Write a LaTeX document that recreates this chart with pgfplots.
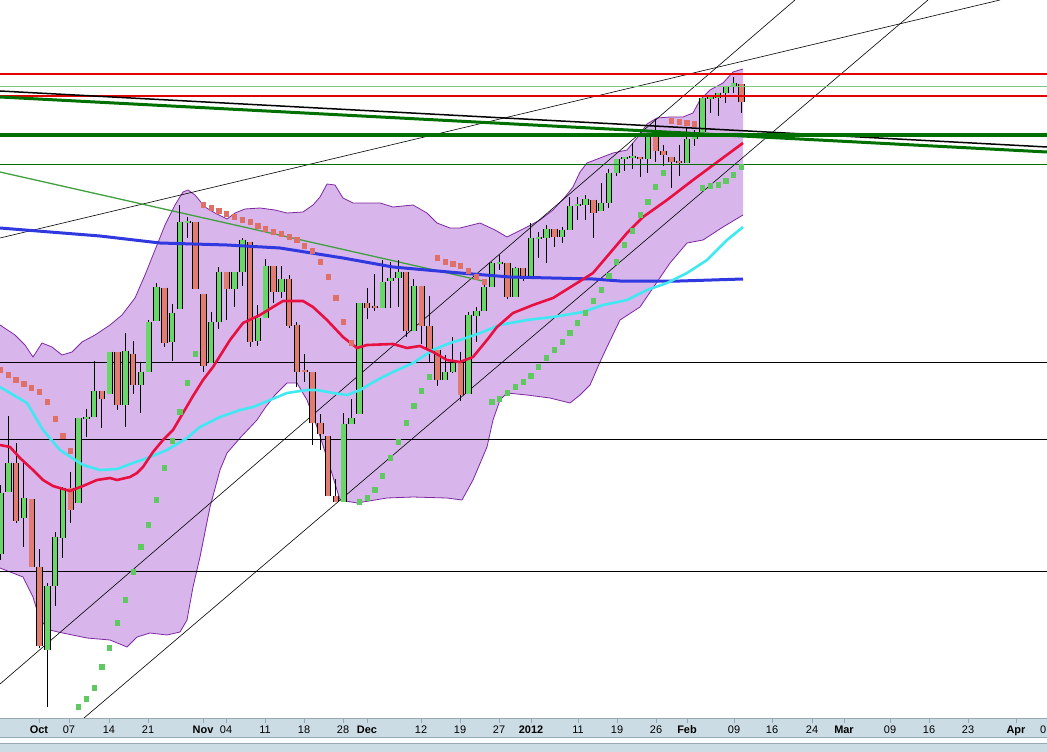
\documentclass[border=0pt]{standalone}
\usepackage{pgfplots}
\pgfplotsset{compat=1.18}
\usepackage{pgfplotstable}
\usepackage{fontspec}
\setmainfont{Liberation Sans}

\definecolor{bandfill}{RGB}{216,182,235}
\definecolor{bandline}{RGB}{125,40,160}
\definecolor{redma}{RGB}{232,16,64}
\definecolor{cyanma}{RGB}{64,232,242}
\definecolor{bluema}{RGB}{48,56,224}
\definecolor{cgreen}{RGB}{104,214,104}
\definecolor{cred}{RGB}{226,124,114}
\definecolor{sarred}{RGB}{222,112,104}
\definecolor{sargreen}{RGB}{96,200,96}
\definecolor{dgreen}{RGB}{0,112,0}
\definecolor{tgreen}{RGB}{64,160,64}
\definecolor{lgreen}{RGB}{128,200,128}
\definecolor{hred}{RGB}{228,0,0}
\definecolor{barc}{RGB}{203,220,229}
\definecolor{barline}{RGB}{150,168,180}

% candles in screen pixels: x, high, body top, body bottom, low
\pgfplotstableread{
x h bt bb l
0.5 485 493 554 560
8.3 416 463 492 492
23.9 463 498 518 547
47.3 583 586 650 707
55.1 532 537 586 606
62.9 487 488 538 558
78.5 418 418 503 503
86.3 409 417 419 437
94.1 361 391 417 417
109.7 352 352 394 394
125.3 333 351 405 427
140.9 363 372 385 413
148.7 320 322 372 372
156.5 283 287 321 321
172.1 304 313 342 361
179.9 205 222 309 309
187.7 217 221 223 238
211.1 312 322 363 363
218.9 267 272 322 329
234.5 272 272 289 307
242.3 238 240 272 286
257.9 305 318 341 346
265.7 259 266 318 318
281.3 266 279 292 298
343.7 413 424 502 502
351.5 399 418 424 424
359.3 303 303 414 414
382.7 260 282 308 308
390.5 262 278 281 308
398.3 260 272 278 307
413.9 279 286 331 331
445.1 355 372 380 380
452.9 337 363 372 373
468.5 312 315 394 394
476.3 307 311 316 342
484.1 281 287 311 311
491.9 262 263 287 287
499.7 255 262 264 270
515.3 267 268 297 297
530.9 223 238 277 277
538.7 232 237 239 258
546.5 225 229 238 263
562.1 227 230 237 243
569.9 197 206 230 230
577.7 197 204 206 220
585.5 195 199 205 220
601.1 183 203 211 211
608.9 169 173 203 208
616.7 159 159 173 176
624.5 157 157 159 171
632.3 143 156 158 169
647.9 137 137 159 173
686.9 127 139 163 163
694.7 130 137 139 146
702.5 98 98 132 132
710.3 97 97 99 113
718.1 93 93 98 116
725.9 87 87 93 103
733.7 77 83 87 93
}\upc

\pgfplotstableread{
x h bt bb l
16.1 443 463 521 523
31.7 499 499 567 567
39.5 549 567 646 648
70.7 472 488 510 523
101.9 391 391 399 428
117.5 352 352 405 410
133.1 341 354 385 394
164.3 288 288 343 347
195.5 222 222 289 289
203.3 294 294 366 372
226.7 272 272 289 320
250.1 242 242 342 347
273.5 266 266 292 303
289.1 275 279 326 328
296.9 322 325 372 387
304.7 354 370 372 382
312.5 372 372 423 445
320.3 414 423 434 450
328.1 436 436 496 496
335.9 479 496 502 502
367.1 288 303 308 319
374.9 274 306 308 311
406.1 272 272 331 337
421.7 286 286 326 344
429.5 296 326 350 363
437.3 350 350 380 386
460.7 352 363 395 401
507.5 263 263 297 299
523.1 268 268 279 281
554.3 229 229 237 247
593.3 200 200 213 238
640.1 157 157 159 177
655.7 119 137 151 162
663.5 145 151 155 166
671.3 157 157 162 188
679.1 145 161 163 176
741.5 84 84 102 113
}\downc

\newcommand{\wicks}[1]{%
\addplot[draw=none, mark=none, error bars/.cd, y dir=plus, y explicit, error mark=none,
  error bar style={draw=black, line width=0.9bp}]
  table[x=x, y=h, y error expr=\thisrow{l}-\thisrow{h}] {#1};}
\newcommand{\bodies}[2]{%
\addplot[draw=none, mark=none, error bars/.cd, y dir=plus, y explicit, error mark=none,
  error bar style={draw=black, line width=6.4bp}]
  table[x=x, y expr=\thisrow{bt}-0.45, y error expr=\thisrow{bb}-\thisrow{bt}+0.9] {#1};
\addplot[draw=none, mark=none, error bars/.cd, y dir=plus, y explicit, error mark=none,
  error bar style={draw=#2, line width=4.6bp}]
  table[x=x, y expr=\thisrow{bt}+0.45, y error expr=\thisrow{bb}-\thisrow{bt}-0.9] {#1};}

\newcommand{\xl}[3]{\draw[barline, line width=0.8bp] (#1bp,0) -- (#1bp,-5bp);
  \node[anchor=base, inner sep=0pt, font=\fontsize{11}{12}\selectfont#3] at (#1bp,-15.3bp) {#2};}

\begin{document}
\begin{tikzpicture}
\begin{axis}[at={(0,0)}, anchor=south west, scale only axis,
  width=1047bp, height=718bp,
  xmin=0, xmax=1047, ymin=0, ymax=718, y dir=reverse,
  axis line style={draw=none}, xtick=\empty, ytick=\empty,
  clip=true]

% Bollinger band
\addplot[fill=bandfill, draw=none] coordinates {
(0,325) (15,335) (25,345) (33,357) (42,343) (52,347) (62,355) (72,352) (82,342) (95,335)
(110,325) (122,315) (135,298) (145,275) (155,250) (165,225) (175,205) (183,192) (188,190)
(195,195) (205,207) (215,213) (227,219) (235,213) (245,209) (260,208) (275,210) (287,213)
(303,212) (313,205) (320,197) (327,184) (335,185) (343,198) (353,203) (368,203) (380,203)
(393,207) (413,205) (427,213) (437,223) (450,228) (460,228) (480,223) (495,230) (507,237)
(517,232) (527,227) (540,220) (553,210) (565,197) (573,187) (580,172) (587,163) (600,158)
(613,153) (627,150) (637,138) (647,124) (657,118) (670,117) (683,117) (693,113) (700,100)
(710,90) (723,83) (733,72) (743,69)
(743,215) (723,227) (703,240) (687,243) (670,263) (655,285) (640,307) (620,320) (607,347)
(600,362) (590,385) (580,395) (570,403) (550,398) (527,395) (507,393) (500,400) (493,420)
(487,447) (473,480) (462,500) (447,498) (413,497) (387,498) (357,503) (340,500) (330,467)
(317,427) (307,400) (297,383) (287,383) (275,395) (265,408) (257,420) (240,438) (227,453)
(220,470) (210,507) (200,557) (193,587) (187,620) (180,632) (167,635) (150,633) (137,637)
(127,647) (110,640) (87,638) (58,632) (50,630) (40,620) (33,597) (23,577) (0,568)
} -- cycle;
\addplot[bandline, line width=0.8bp] coordinates {
(0,325) (15,335) (25,345) (33,357) (42,343) (52,347) (62,355) (72,352) (82,342) (95,335)
(110,325) (122,315) (135,298) (145,275) (155,250) (165,225) (175,205) (183,192) (188,190)
(195,195) (205,207) (215,213) (227,219) (235,213) (245,209) (260,208) (275,210) (287,213)
(303,212) (313,205) (320,197) (327,184) (335,185) (343,198) (353,203) (368,203) (380,203)
(393,207) (413,205) (427,213) (437,223) (450,228) (460,228) (480,223) (495,230) (507,237)
(517,232) (527,227) (540,220) (553,210) (565,197) (573,187) (580,172) (587,163) (600,158)
(613,153) (627,150) (637,138) (647,124) (657,118) (670,117) (683,117) (693,113) (700,100)
(710,90) (723,83) (733,72) (743,69)};
\addplot[bandline, line width=0.8bp] coordinates {
(743,215) (723,227) (703,240) (687,243) (670,263) (655,285) (640,307) (620,320) (607,347)
(600,362) (590,385) (580,395) (570,403) (550,398) (527,395) (507,393) (500,400) (493,420)
(487,447) (473,480) (462,500) (447,498) (413,497) (387,498) (357,503) (340,500) (330,467)
(317,427) (307,400) (297,383) (287,383) (275,395) (265,408) (257,420) (240,438) (227,453)
(220,470) (210,507) (200,557) (193,587) (187,620) (180,632) (167,635) (150,633) (137,637)
(127,647) (110,640) (87,638) (58,632) (50,630) (40,620) (33,597) (23,577) (0,568)};

% horizontal support lines
\addplot[black, line width=0.8bp] coordinates {(0,362) (1047,362)};
\addplot[black, line width=0.8bp] coordinates {(0,439) (1047,439)};
\addplot[black, line width=0.8bp] coordinates {(0,571) (1047,571)};
% channel lines
\addplot[black, line width=0.6bp] coordinates {(0,684) (795,0)};
\addplot[black, line width=0.6bp] coordinates {(84,718) (928,0)};
\addplot[black, line width=0.6bp] coordinates {(0,238) (1000,0)};
% green down trend
\addplot[tgreen, line width=1.3bp] coordinates {(0,172) (483,281)};

% SAR
\addplot[sarred, only marks, mark=square*, mark size=2.1bp, mark options={solid, draw=sarred, fill=sarred, line width=0pt}] coordinates {
(0.5,370) (8.3,375) (16.1,380) (23.9,384) (31.7,388) (39.5,392) (47.3,402) (55.1,419) (62.9,436) (70.7,451)
(203.3,205) (211.1,208) (218.9,211) (226.7,214) (234.5,217) (242.3,220) (250.1,222) (257.9,226) (265.7,229)
(273.5,232) (281.3,234) (289.1,237) (296.9,240) (304.7,246) (312.5,251) (320.3,262) (328.1,277) (335.9,298)
(343.7,322) (351.5,343)
(437.3,258) (445.1,262) (452.9,264) (460.7,266) (468.5,271) (476.3,277) (484.1,282)
(671.3,121) (679.1,122) (686.9,123) (694.7,124)};
\addplot[sargreen, only marks, mark=square*, mark size=2.1bp, mark options={solid, draw=sargreen, fill=sargreen, line width=0pt}] coordinates {
(78.5,707) (86.3,699) (94.1,688) (101.9,667) (109.7,648) (117.5,623) (125.3,600) (133.1,572) (140.9,547)
(148.7,525) (156.5,500) (164.3,468) (172.1,441) (179.9,412) (187.7,383) (195.5,354)
(359.3,502) (367.1,498) (374.9,490) (382.7,476) (390.5,458) (398.3,442) (406.1,423) (413.9,406) (421.7,391) (429.5,377)
(491.9,402) (499.7,399) (507.5,393) (515.3,387) (523.1,382) (530.9,376) (538.7,367) (546.5,358) (554.3,350)
(562.1,342) (569.9,333) (577.7,323) (585.5,313) (593.3,301) (601.1,290) (608.9,276) (616.7,262) (624.5,245)
(632.3,231) (640.1,215) (647.9,202) (655.7,187) (663.5,173)
(702.5,188) (710.3,186) (718.1,185) (725.9,181) (733.7,175) (741.5,167)};

% candles
\wicks{\upc}
\wicks{\downc}
\bodies{\upc}{cgreen}
\bodies{\downc}{cred}

% moving averages
\addplot[bluema, line width=3bp] coordinates {
(0,228) (50,232) (100,236) (160,243) (227,245) (280,248) (343,258) (393,267) (460,273)
(510,277) (593,279) (620,281) (680,281) (743,279)};
\addplot[cyanma, line width=2.6bp] coordinates {
(0,387) (27,403) (43,430) (60,450) (83,465) (100,470) (117,469) (133,463) (150,457) (167,450)
(187,438) (200,427) (220,417) (240,410) (253,407) (270,400) (287,393) (307,390) (317,390)
(333,393) (347,395) (360,390) (377,380) (393,372) (413,363) (433,350) (450,343) (460,340)
(480,333) (500,325) (527,320) (553,317) (583,312) (603,305) (627,300) (647,290) (667,283)
(687,273) (707,260) (727,240) (743,227)};
\addplot[redma, line width=2.6bp] coordinates {
(0,445) (10,447) (20,458) (33,470) (43,480) (53,486) (63,489) (70,491) (83,486) (97,480)
(110,478) (117,480) (130,477) (137,473) (143,467) (153,452) (163,440) (173,430) (183,413)
(193,396) (203,380) (213,367) (230,340) (243,323) (260,315) (273,307) (283,301) (303,301)
(313,307) (327,320) (343,337) (357,348) (367,345) (393,344) (407,348) (420,346) (433,352)
(447,360) (460,362) (473,357) (487,340) (497,327) (513,313) (533,305) (553,298) (577,283)
(593,273) (610,253) (627,233) (643,217) (667,200) (693,180) (720,160) (743,143)};

% resistance lines
\addplot[hred, line width=1.6bp] coordinates {(0,74) (1047,74)};
\addplot[hred, line width=1.6bp] coordinates {(0,96) (1047,96)};
\addplot[lgreen, line width=0.8bp] coordinates {(0,86) (1047,86)};
\addplot[dgreen, line width=0.8bp] coordinates {(0,164) (1047,164)};
\addplot[black, line width=1.5bp] coordinates {(0,91) (1047,147)};
\addplot[dgreen, line width=3bp] coordinates {(0,97) (1047,152)};
\addplot[dgreen, line width=4bp] coordinates {(0,135) (1047,135)};
\end{axis}

% date bar
\fill[barc] (0,-34bp) rectangle (1047bp,0);
\fill[white!92!barc] (0,-25.5bp) rectangle (1047bp,-19.5bp);
\draw[barline, line width=0.8bp] (0,-19.5bp) -- (1047bp,-19.5bp);
\draw[barline, line width=0.8bp] (0,-25.5bp) -- (1047bp,-25.5bp);
\draw[barline, line width=1bp] (0,-0.5bp) -- (1047bp,-0.5bp);
\xl{39}{Oct}{\bfseries}
\xl{69}{07}{}
\xl{109}{14}{}
\xl{148}{21}{}
\xl{203}{Nov}{\bfseries}
\xl{226}{04}{}
\xl{265}{11}{}
\xl{304}{18}{}
\xl{343}{28}{}
\xl{367}{Dec}{\bfseries}
\xl{421}{12}{}
\xl{460}{19}{}
\xl{499}{27}{}
\xl{531}{2012}{\bfseries}
\xl{578}{11}{}
\xl{617}{19}{}
\xl{656}{26}{}
\xl{687}{Feb}{\bfseries}
\xl{734}{09}{}
\xl{772}{16}{}
\xl{812}{24}{}
\xl{844}{Mar}{\bfseries}
\xl{890}{09}{}
\xl{929}{16}{}
\xl{968}{23}{}
\xl{1016}{Apr}{\bfseries}
\node[anchor=base east, inner sep=0pt, font=\fontsize{11}{12}\selectfont] at (1046.5bp,-15.3bp) {0};
\pgfresetboundingbox
\path[use as bounding box] (0,-34bp) rectangle (1047bp,718bp);
\end{tikzpicture}
\end{document}
